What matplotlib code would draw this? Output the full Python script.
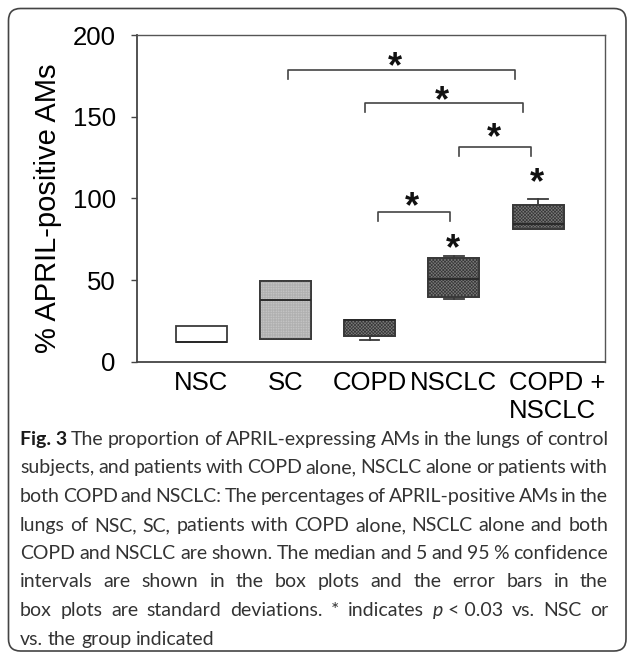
import matplotlib
matplotlib.use('Agg')
import matplotlib.pyplot as plt
import matplotlib.transforms as mtransforms
from matplotlib.patches import FancyBboxPatch, PathPatch

# box plot values (% APRIL-positive AMs)
groups = ['NSC', 'SC', 'COPD', 'NSCLC', 'COPD +\nNSCLC']
q1 = [12.1, 13.9, 15.7, 39.8, 81.5]
med = [12.1, 37.6, 25.4, 50.9, 84.4]
q3 = [22.1, 49.6, 25.6, 63.4, 96.0]
wlo = [12.1, 13.9, 13.3, 38.4, 81.1]
whi = [22.1, 49.6, 25.6, 65.0, 99.5]

# significance brackets (group index units) and stars
br_left = [2.03, 2.95, 4.06, 3.10]
br_right = [4.72, 4.82, 4.91, 3.95]
br_y = [178.7, 158.3, 131.6, 91.7]
star_x = [3.30, 3.86, 4.47, 3.50, 3.99, 4.99]
star_y = [186.9, 166.5, 143.6, 101.1, 75.6, 115.8]

caption = [
    [[('Fig.\u00a03', 'bold')], 'The', 'proportion', 'of', 'APRIL-expressing', 'AMs', 'in', 'the', 'lungs', 'of', 'control'],
    'subjects, and patients with COPD alone, NSCLC alone or patients with'.split(' '),
    'both COPD and NSCLC: The percentages of APRIL-positive AMs in the'.split(' '),
    'lungs of NSC, SC, patients with COPD alone, NSCLC alone and both'.split(' '),
    'COPD and NSCLC are shown. The median and 5 and 95 % confidence'.split(' '),
    'intervals are shown in the box plots and the error bars in the'.split(' '),
    ['box', 'plots', 'are', 'standard', 'deviations.', '*', 'indicates',
     [('p', 'italic'), ('\u00a0<\u00a00.03', 'normal')], 'vs.', 'NSC', 'or'],
    'vs. the group indicated'.split(' '),
]

plt.rcParams['font.family'] = ['Liberation Sans', 'DejaVu Sans']
plt.rcParams['hatch.linewidth'] = 0.5

W, H = 627, 653
fig = plt.figure(figsize=(W / 100, H / 100), dpi=100)
ax = fig.add_axes([137.3 / W, 291.3 / H, 467.7 / W, 326.4 / H])

stats = []
capw = []
for i in range(len(groups)):
    stats.append(dict(label=groups[i], whislo=wlo[i], q1=q1[i], med=med[i],
                      q3=q3[i], whishi=whi[i]))
    capw.append(0.23 if (wlo[i] < q1[i] or whi[i] > q3[i]) else 0.0)

edge = '#3a3a3a'
bp = ax.bxp(stats, positions=range(1, len(groups) + 1), widths=0.605,
            patch_artist=True, showfliers=False, capwidths=capw,
            boxprops=dict(edgecolor=edge, linewidth=1.3),
            medianprops=dict(color='#2a2a2a', linewidth=1.4, zorder=4),
            whiskerprops=dict(color=edge, linewidth=1.3),
            capprops=dict(color=edge, linewidth=1.3))

fills = ['white', '#cdcdcd', '#7a7a7a', '#7a7a7a', '#7a7a7a']
hatches = [None, '++++++++++', 'xxxxxxxxxx', 'xxxxxxxxxx', 'xxxxxxxxxx']
hcols = [None, '#b0b0b0', '#383838', '#383838', '#383838']
for box, fc, h, hc in zip(bp['boxes'], fills, hatches, hcols):
    box.set_facecolor(fc)
    box.set_zorder(2)
    if h:
        ax.add_patch(PathPatch(box.get_path(), facecolor='none', edgecolor=hc,
                               lw=0, hatch=h, zorder=2.5))
        ax.add_patch(PathPatch(box.get_path(), facecolor='none', edgecolor=edge,
                               lw=1.3, zorder=3))

ax.set_xlim(0.242, 5.793)
ax.set_ylim(0, 200)
ax.set_yticks([0, 50, 100, 150, 200])
ax.tick_params(axis='y', length=4, width=1, color='#444', labelsize=18.5, pad=11.5)
ax.tick_params(axis='x', length=0, labelsize=18.5, pad=6.5)
for lab in ax.get_xticklabels():
    lab.set_multialignment('left')
last = ax.get_xticklabels()[-1]
last.set_transform(last.get_transform() +
                   mtransforms.ScaledTranslation(0.19, 0, fig.dpi_scale_trans))

for s in ['left', 'bottom']:
    ax.spines[s].set_color('#444')
    ax.spines[s].set_linewidth(1.3)
for s in ['top', 'right']:
    ax.spines[s].set_color('#555')
    ax.spines[s].set_linewidth(1.0)

ax.set_ylabel('% APRIL-positive AMs', fontsize=21)
ax.yaxis.set_label_coords(-0.16, 0.471)

drop = 5.5
for x0, x1, y in zip(br_left, br_right, br_y):
    ax.plot([x0, x0, x1, x1], [y - drop, y, y, y - drop], color='#444', lw=1.2,
            clip_on=False)

fs_star = 26
off = mtransforms.ScaledTranslation(0, -0.575 * fs_star / 72, fig.dpi_scale_trans)
for x, y in zip(star_x, star_y):
    ax.text(x, y, '*', transform=ax.transData + off, ha='center', va='baseline',
            fontsize=fs_star, fontweight='bold', color='#111')

# frame around figure + caption
frame = FancyBboxPatch((8.5, 2), 626 - 8.5, 644.5 - 2,
                       boxstyle='round,pad=0,rounding_size=12',
                       transform=mtransforms.IdentityTransform(),
                       facecolor='none', edgecolor='#444', lw=1.2)
fig.add_artist(frame)

# justified caption
r = fig.canvas.get_renderer()
px = mtransforms.IdentityTransform()
cap_font = ['Lato', 'DejaVu Sans']
cap_size = 14
x_start, x_end = 20, 608
base0, lead = H - 445, 28.5


def put(s, x, y, style):
    kw = dict(fontsize=cap_size, family=cap_font, color='#333', transform=px,
              va='baseline', ha='left')
    if style == 'bold':
        kw.update(fontweight='bold', color='#1a1a1a')
    elif style == 'italic':
        kw.update(style='italic')
    return fig.text(x, y, s, **kw)


sp = put('a a', 0, 0, 'normal')
sp2 = put('aa', 0, 0, 'normal')
space_w = sp.get_window_extent(r).width - sp2.get_window_extent(r).width
sp.remove()
sp2.remove()

for li, line in enumerate(caption):
    y = round(base0 - li * lead)
    words = [w if isinstance(w, list) else [(w, 'normal')] for w in line]
    arts = []
    widths = []
    for w in words:
        pieces = [put(s, 0, y, st) for s, st in w]
        arts.append(pieces)
        widths.append(sum(p.get_window_extent(r).width for p in pieces))
    if li < len(caption) - 1:
        gap = (x_end - x_start - sum(widths)) / (len(words) - 1)
    else:
        gap = space_w
    x = x_start
    for pieces, wd in zip(arts, widths):
        xx = x
        for p in pieces:
            p.set_x(xx)
            xx += p.get_window_extent(r).width
        x += wd + gap

fig.savefig('out.png', dpi=100)
